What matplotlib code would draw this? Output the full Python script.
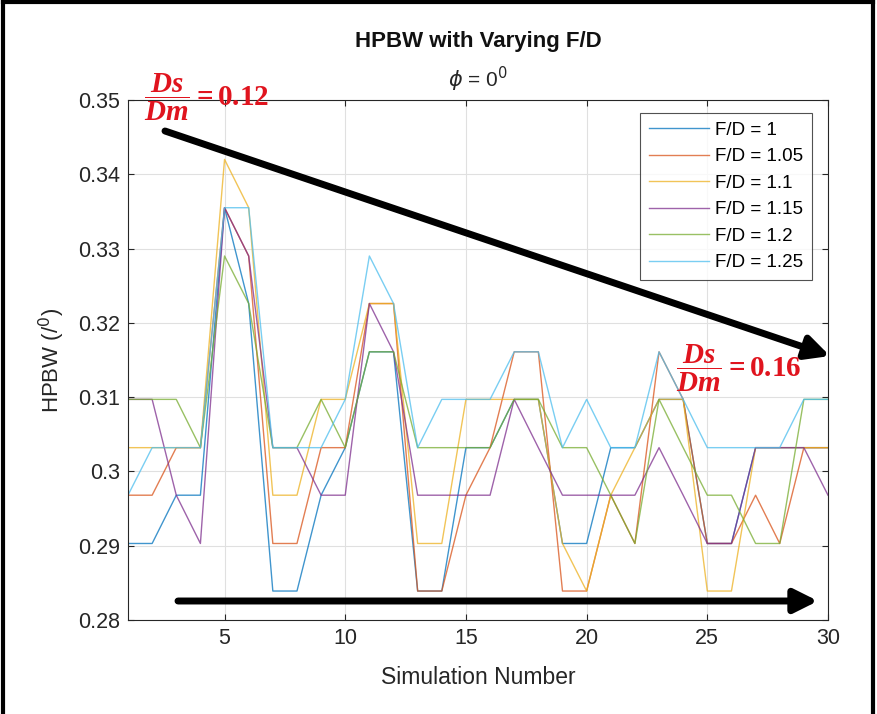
import numpy as np
import matplotlib
matplotlib.use("Agg")
import matplotlib.pyplot as plt
from matplotlib.lines import Line2D

# mathtext for the red Ds/Dm labels: bold serif
plt.rcParams['font.family'] = ['Liberation Sans', 'DejaVu Sans']
plt.rcParams['mathtext.fontset'] = 'custom'
plt.rcParams['mathtext.it'] = 'Liberation Serif:bold:italic'
plt.rcParams['mathtext.rm'] = 'Liberation Serif:bold'
plt.rcParams['mathtext.bf'] = 'Liberation Serif:bold'

sim = np.arange(1, 31)

fd_labels = ['F/D = 1', 'F/D = 1.05', 'F/D = 1.1', 'F/D = 1.15', 'F/D = 1.2', 'F/D = 1.25']
colors = ['#0072BD', '#D95319', '#EDB120', '#7E2F8E', '#77AC30', '#4DBEEE']

hpbw_100 = [0.2903, 0.2903, 0.2968, 0.2968, 0.3355, 0.3226, 0.2839, 0.2839, 0.2968, 0.3032,
            0.3161, 0.3161, 0.2839, 0.2839, 0.3032, 0.3032, 0.3097, 0.3097, 0.2903, 0.2903,
            0.3032, 0.3032, 0.3097, 0.3097, 0.2903, 0.2903, 0.3032, 0.3032, 0.3032, 0.3032]
hpbw_105 = [0.2968, 0.2968, 0.3032, 0.3032, 0.3355, 0.3290, 0.2903, 0.2903, 0.3032, 0.3032,
            0.3226, 0.3226, 0.2839, 0.2839, 0.2968, 0.3032, 0.3161, 0.3161, 0.2839, 0.2839,
            0.2968, 0.2903, 0.3161, 0.3097, 0.2903, 0.2903, 0.2968, 0.2903, 0.3032, 0.3032]
hpbw_110 = [0.3032, 0.3032, 0.3032, 0.3032, 0.3420, 0.3355, 0.2968, 0.2968, 0.3097, 0.3097,
            0.3226, 0.3226, 0.2903, 0.2903, 0.3097, 0.3097, 0.3097, 0.3097, 0.2903, 0.2839,
            0.2968, 0.3032, 0.3097, 0.3097, 0.2839, 0.2839, 0.3032, 0.3032, 0.3032, 0.3032]
hpbw_115 = [0.3097, 0.3097, 0.2968, 0.2903, 0.3355, 0.3290, 0.3032, 0.3032, 0.2968, 0.2968,
            0.3226, 0.3161, 0.2968, 0.2968, 0.2968, 0.2968, 0.3097, 0.3032, 0.2968, 0.2968,
            0.2968, 0.2968, 0.3032, 0.2968, 0.2903, 0.2903, 0.3032, 0.3032, 0.3032, 0.2968]
hpbw_120 = [0.3097, 0.3097, 0.3097, 0.3032, 0.3290, 0.3226, 0.3032, 0.3032, 0.3097, 0.3032,
            0.3161, 0.3161, 0.3032, 0.3032, 0.3032, 0.3032, 0.3097, 0.3097, 0.3032, 0.3032,
            0.2968, 0.2903, 0.3097, 0.3032, 0.2968, 0.2968, 0.2903, 0.2903, 0.3097, 0.3097]
hpbw_125 = [0.2968, 0.3032, 0.3032, 0.3032, 0.3355, 0.3355, 0.3032, 0.3032, 0.3032, 0.3097,
            0.3290, 0.3226, 0.3032, 0.3097, 0.3097, 0.3097, 0.3161, 0.3161, 0.3032, 0.3097,
            0.3032, 0.3032, 0.3161, 0.3097, 0.3032, 0.3032, 0.3032, 0.3032, 0.3097, 0.3097]
series = [hpbw_100, hpbw_105, hpbw_110, hpbw_115, hpbw_120, hpbw_125]

yticks = [0.28, 0.29, 0.30, 0.31, 0.32, 0.33, 0.34, 0.35]
ytick_labels = ['0.28', '0.29', '0.3', '0.31', '0.32', '0.33', '0.34', '0.35']
xticks = [5, 10, 15, 20, 25, 30]

fig = plt.figure(figsize=(8.77, 7.14), dpi=100)
ax = fig.add_axes([128 / 877, 1 - 620 / 714, 700 / 877, 520 / 714])

for vals, lab, c in zip(series, fd_labels, colors):
    ax.plot(sim, vals, color=c, lw=1.0, alpha=0.75, label=lab)

ax.set_xlim(1, 30)
ax.set_ylim(0.28, 0.35)
ax.set_xticks(xticks)
ax.set_yticks(yticks)
ax.set_yticklabels(ytick_labels)
ax.tick_params(direction='in', length=4, labelsize=15.5, colors='#262626', top=True, right=True, pad=6)
ax.grid(True, color='#e0e0e0', lw=0.8)
for s in ax.spines.values():
    s.set_color('#262626')
    s.set_linewidth(0.8)

ax.set_xlabel('Simulation Number', fontsize=16.5, color='#262626', labelpad=12)
ax.set_ylabel(r'HPBW (/$^0$)', fontsize=16, color='#262626', math_fontfamily='dejavusans', labelpad=8)

fig.text(478 / 877, 1 - 42 / 714, 'HPBW with Varying F/D', ha='center', va='center',
         fontsize=16, fontweight='bold', color='#111111')
fig.text(478 / 877, 1 - 79 / 714, r'$\phi$ = 0$^0$', ha='center', va='center',
         fontsize=15, color='#262626', math_fontfamily='dejavusans')

leg = ax.legend(loc='upper right', bbox_to_anchor=(1 - 16 / 700, 1 - 13 / 520),
                fontsize=13.5, frameon=True, fancybox=False, handlelength=3.2,
                borderpad=0.45, labelspacing=0.5, handletextpad=0.35, borderaxespad=0)
leg.get_frame().set_edgecolor('#262626')
leg.get_frame().set_linewidth(0.8)

# black arrows (figure pixel coordinates converted to fractions)
def fpix(x, y):
    return (x / 877, 1 - y / 714)

fig.patches.append(matplotlib.patches.FancyArrowPatch(
    fpix(165, 131), fpix(830, 356), transform=fig.transFigure,
    arrowstyle='-|>,head_length=14,head_width=7', lw=5, color='black',
    mutation_scale=1, shrinkA=0, shrinkB=0))
fig.patches.append(matplotlib.patches.FancyArrowPatch(
    fpix(178, 601), fpix(818, 601), transform=fig.transFigure,
    arrowstyle='-|>,head_length=14,head_width=7', lw=5, color='black',
    mutation_scale=1, shrinkA=0, shrinkB=0))

red = '#E0141E'
fig.text(206 / 877, 1 - 97 / 714, r'$\dfrac{Ds}{Dm}=\mathrm{0.12}$', ha='center', va='center',
         fontsize=21, color=red)
fig.text(739 / 877, 1 - 368 / 714, r'$\dfrac{Ds}{Dm}=\mathrm{0.16}$', ha='center', va='center',
         fontsize=21, color=red)

# outer frame of the screenshot
fig.add_artist(Line2D([0.003, 0.003], [0, 0.997], transform=fig.transFigure, color='black', lw=3))
fig.add_artist(Line2D([0.003, 0.995], [0.997, 0.997], transform=fig.transFigure, color='black', lw=3))
fig.add_artist(Line2D([0.995, 0.995], [0, 0.997], transform=fig.transFigure, color='black', lw=3))

fig.savefig('out.png', dpi=100)
